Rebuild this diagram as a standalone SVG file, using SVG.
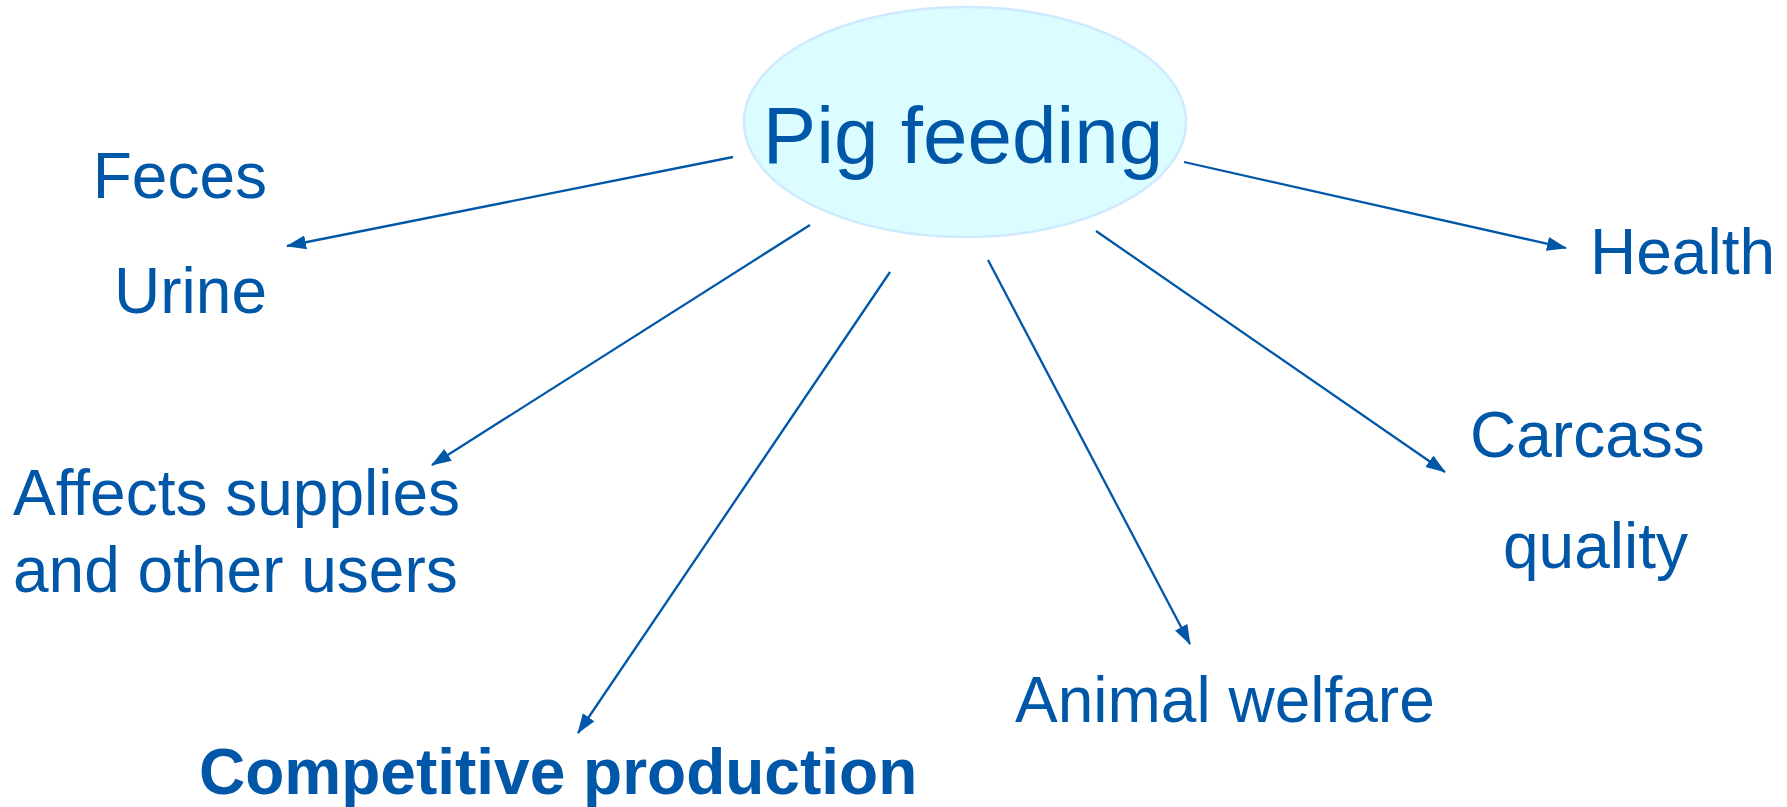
<svg xmlns="http://www.w3.org/2000/svg" width="1787" height="807" viewBox="0 0 1787 807">
<style>
.t{font-family:"Liberation Sans",Arial,sans-serif;font-size:64px;fill:#0057A8}
.b{font-weight:bold}
.c{stroke:#0057A8;stroke-width:2.3;fill:none;marker-end:url(#ah)}
</style>
<defs>
<marker id="ah" markerUnits="userSpaceOnUse" markerWidth="20" markerHeight="15" refX="19" refY="7" orient="auto" viewBox="0 0 20 14">
<path d="M0,0 L20,7 L0,14 Z" fill="#0057A8"/>
</marker>
</defs>
<rect width="1787" height="807" fill="#ffffff"/>
<g id="connectors">
<line class="c" x1="733" y1="157" x2="287" y2="246"/>
<line class="c" x1="810" y1="225" x2="432" y2="465"/>
<line class="c" x1="890" y1="272" x2="578" y2="733"/>
<line class="c" x1="988" y1="260" x2="1190" y2="644"/>
<line class="c" x1="1096" y1="231" x2="1445" y2="472"/>
<line class="c" x1="1184" y1="162" x2="1566" y2="248"/>
</g>
<g id="pig-feeding">
<ellipse cx="965" cy="122" rx="221" ry="115" fill="#DCFDFF" stroke="#CFE9FF" stroke-width="2.5"/>
<text class="t" x="963" y="163" text-anchor="middle" style="font-size:80px">Pig feeding</text>
</g>
<g id="feces-urine">
<text class="t" x="267" y="198" text-anchor="end">Feces</text>
<text class="t" x="267" y="313" text-anchor="end">Urine</text>
</g>
<g id="affects-supplies">
<text class="t" x="13" y="515">Affects supplies</text>
<text class="t" x="13" y="592">and other users</text>
</g>
<g id="competitive-production">
<text class="t b" x="199" y="794">Competitive production</text>
</g>
<g id="animal-welfare">
<text class="t" x="1015" y="722">Animal welfare</text>
</g>
<g id="carcass-quality">
<text class="t" x="1470" y="457">Carcass</text>
<text class="t" x="1503" y="568">quality</text>
</g>
<g id="health">
<text class="t" x="1590" y="274">Health</text>
</g>
</svg>
